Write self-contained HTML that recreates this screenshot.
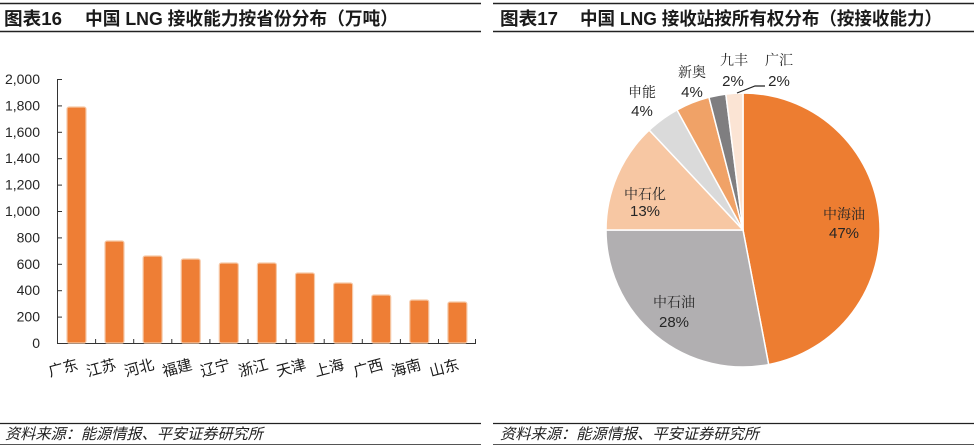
<!DOCTYPE html>
<html><head><meta charset="utf-8">
<style>
html,body{margin:0;padding:0;background:#fff;}
svg{display:block;}
.t{font-family:"Liberation Sans","Noto Sans CJK SC",sans-serif;}
</style></head>
<body>
<svg width="974" height="448" viewBox="0 0 974 448" xmlns="http://www.w3.org/2000/svg">
<rect width="974" height="448" fill="#fff"/>
<!-- Left panel frame lines -->
<line x1="0" y1="3.5" x2="481" y2="3.5" stroke="#222" stroke-width="1.5"/>
<line x1="0" y1="31.5" x2="481" y2="31.5" stroke="#222" stroke-width="1.5"/>
<line x1="0" y1="423.5" x2="481" y2="423.5" stroke="#222" stroke-width="1.3"/>
<line x1="0" y1="444.5" x2="481" y2="444.5" stroke="#555" stroke-width="1"/>
<!-- Right panel frame lines -->
<line x1="493" y1="3.5" x2="974" y2="3.5" stroke="#222" stroke-width="1.5"/>
<line x1="493" y1="31.5" x2="974" y2="31.5" stroke="#222" stroke-width="1.5"/>
<line x1="493" y1="423.5" x2="974" y2="423.5" stroke="#222" stroke-width="1.3"/>
<line x1="493" y1="444.5" x2="974" y2="444.5" stroke="#555" stroke-width="1"/>

<!-- Titles -->
<g class="t" font-weight="bold" font-size="18" fill="#1a1a1a">
<text x="4" y="25" textLength="58" lengthAdjust="spacingAndGlyphs">图表16</text>
<text x="85" y="25" textLength="313" lengthAdjust="spacingAndGlyphs">中国 LNG 接收能力按省份分布（万吨）</text>
<text x="500" y="25" textLength="58" lengthAdjust="spacingAndGlyphs">图表17</text>
<text x="580" y="25" textLength="362" lengthAdjust="spacingAndGlyphs">中国 LNG 接收站按所有权分布（按接收能力）</text>
</g>

<!-- Source -->
<g class="t" font-style="italic" font-size="15" fill="#222">
<text x="5" y="439" textLength="258" lengthAdjust="spacingAndGlyphs" transform="skewX(0)">资料来源：能源情报、平安证券研究所</text>
<text x="500" y="439" textLength="259" lengthAdjust="spacingAndGlyphs">资料来源：能源情报、平安证券研究所</text>
</g>

<!-- Bar chart axes -->
<g stroke="#333" stroke-width="1">
<line x1="57.5" y1="79" x2="57.5" y2="343.5"/>
<line x1="57" y1="343.5" x2="476" y2="343.5"/>
<!-- y ticks -->
<line x1="57" y1="79.5" x2="62" y2="79.5"/>
<line x1="57" y1="105.9" x2="62" y2="105.9"/>
<line x1="57" y1="132.3" x2="62" y2="132.3"/>
<line x1="57" y1="158.7" x2="62" y2="158.7"/>
<line x1="57" y1="185.1" x2="62" y2="185.1"/>
<line x1="57" y1="211.5" x2="62" y2="211.5"/>
<line x1="57" y1="237.9" x2="62" y2="237.9"/>
<line x1="57" y1="264.3" x2="62" y2="264.3"/>
<line x1="57" y1="290.7" x2="62" y2="290.7"/>
<line x1="57" y1="317.1" x2="62" y2="317.1"/>
<!-- x ticks -->
<line x1="95.6" y1="339" x2="95.6" y2="343"/>
<line x1="133.7" y1="339" x2="133.7" y2="343"/>
<line x1="171.8" y1="339" x2="171.8" y2="343"/>
<line x1="209.9" y1="339" x2="209.9" y2="343"/>
<line x1="248" y1="339" x2="248" y2="343"/>
<line x1="286.1" y1="339" x2="286.1" y2="343"/>
<line x1="324.2" y1="339" x2="324.2" y2="343"/>
<line x1="362.3" y1="339" x2="362.3" y2="343"/>
<line x1="400.4" y1="339" x2="400.4" y2="343"/>
<line x1="438.5" y1="339" x2="438.5" y2="343"/>
<line x1="475.5" y1="339" x2="475.5" y2="343"/>
</g>
<!-- y labels -->
<g class="t" font-size="14" fill="#262626" text-anchor="end">
<text x="40" y="84">2,000</text>
<text x="40" y="110.4">1,800</text>
<text x="40" y="136.8">1,600</text>
<text x="40" y="163.2">1,400</text>
<text x="40" y="189.6">1,200</text>
<text x="40" y="216">1,000</text>
<text x="40" y="242.4">800</text>
<text x="40" y="268.8">600</text>
<text x="40" y="295.2">400</text>
<text x="40" y="321.6">200</text>
<text x="40" y="348">0</text>
</g>
<!-- bars -->
<g fill="#EE7E35" stroke="#F6C9A8" stroke-width="1.2">
<rect x="67" y="107" width="19" height="236" rx="2"/>
<rect x="105" y="241" width="19" height="102" rx="2"/>
<rect x="143.1" y="256" width="19" height="87" rx="2"/>
<rect x="181.2" y="259" width="19" height="84" rx="2"/>
<rect x="219.3" y="263" width="19" height="80" rx="2"/>
<rect x="257.4" y="263" width="19" height="80" rx="2"/>
<rect x="295.5" y="273" width="19" height="70" rx="2"/>
<rect x="333.6" y="283" width="19" height="60" rx="2"/>
<rect x="371.7" y="295" width="19" height="48" rx="2"/>
<rect x="409.8" y="300" width="19" height="43" rx="2"/>
<rect x="447.9" y="302" width="19" height="41" rx="2"/>
</g>
<!-- x labels -->
<g class="t" font-size="15" fill="#1a1a1a" text-anchor="end">
<text transform="translate(79,369) rotate(-15)">广东</text>
<text transform="translate(117,369) rotate(-15)">江苏</text>
<text transform="translate(155,369) rotate(-15)">河北</text>
<text transform="translate(193,369) rotate(-15)">福建</text>
<text transform="translate(231,369) rotate(-15)">辽宁</text>
<text transform="translate(269,369) rotate(-15)">浙江</text>
<text transform="translate(307,369) rotate(-15)">天津</text>
<text transform="translate(345,369) rotate(-15)">上海</text>
<text transform="translate(384,369) rotate(-15)">广西</text>
<text transform="translate(422,369) rotate(-15)">海南</text>
<text transform="translate(460,369) rotate(-15)">山东</text>
</g>

<!-- Pie -->
<g stroke="#fff" stroke-width="1.5" stroke-linejoin="round">
<path d="M743,230 L743,93 A137,137 0 0 1 768.67,364.58 Z" fill="#ED7D31"/>
<path d="M743,230 L768.67,364.58 A137,137 0 0 1 606,230 Z" fill="#B1AFB1"/>
<path d="M743,230 L606,230 A137,137 0 0 1 649.22,130.13 Z" fill="#F7C7A3"/>
<path d="M743,230 L649.22,130.13 A137,137 0 0 1 677,109.95 Z" fill="#DADADA"/>
<path d="M743,230 L677,109.95 A137,137 0 0 1 708.93,97.3 Z" fill="#F0A267"/>
<path d="M743,230 L708.93,97.3 A137,137 0 0 1 725.83,94.08 Z" fill="#7F7E80"/>
<path d="M743,230 L725.83,94.08 A137,137 0 0 1 743,93 Z" fill="#FBE4D4"/>
</g>
<polyline points="737,93 755,86 765,86" fill="none" stroke="#222" stroke-width="1.2"/>
<!-- Pie labels -->
<g font-family="'Liberation Serif','Noto Serif CJK SC',serif" font-size="14" fill="#262626" text-anchor="middle">
<text x="844" y="219">中海油</text>
<text x="674" y="307">中石油</text>
<text x="645" y="199">中石化</text>
<text x="642" y="97">申能</text>
<text x="692" y="77">新奥</text>
<text x="734" y="65">九丰</text>
<text x="779" y="65">广汇</text>
</g>
<g class="t" font-size="15" fill="#262626" text-anchor="middle">
<text x="844" y="238">47%</text>
<text x="674" y="327">28%</text>
<text x="645" y="216">13%</text>
<text x="642" y="116">4%</text>
<text x="692" y="97">4%</text>
<text x="733" y="86">2%</text>
<text x="779" y="86">2%</text>
</g>
</svg>
</body></html>
